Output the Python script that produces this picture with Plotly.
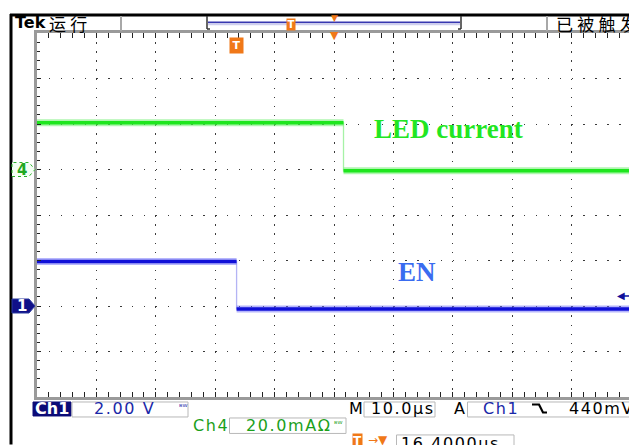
import plotly.graph_objects as go

time_window_us = [-33.6, 66.06]      # visible horizontal span, trigger at 0 us
time_per_div_us = 10.0
trigger_offset_us = 16.4             # horizontal position readout (screen centre)

led_fall_us = 18.0                   # Ch4 (LED current) falling edge
led_levels_mA = [20.5, -0.6]         # before / after the edge
ch4_scale_mA = 20.0                  # mA per division

en_fall_us = 0.0                     # Ch1 (EN) falling edge = trigger point
en_levels_V = [1.96, -0.13]          # before / after the edge
ch1_scale_V = 2.0                    # V per division
trigger_level_V = 0.44

# ---------------- geometry of the scope screen (pixels) ----------------
W, H = 629, 445
PL, PR, PT, PB = 37, 629, 33, 397.5


def fx(px):
    return (px - PL) / (PR - PL)


def fy(py):
    return (PB - py) / (PB - PT)


def sp(s):
    """hair-spaced text to imitate the wide scope font"""
    return "\u200a".join(s)


t0, t1 = time_window_us

GREEN = "#1ee61e"
GREEN_HALO = "rgba(110,238,110,0.55)"
GREEN_EDGE = "#a6f2a6"
BLUE = "#1010d8"
BLUE_HALO = "rgba(110,110,250,0.5)"
BLUE_EDGE = "#b4b4f4"

fig = go.Figure()

# --- Ch4 LED current ---
led_x = [t0, led_fall_us, led_fall_us, t1]
led_y = [led_levels_mA[0], led_levels_mA[0], led_levels_mA[1], led_levels_mA[1]]
fig.add_trace(go.Scatter(x=led_x, y=led_y, mode="lines",
                         line=dict(color=GREEN_EDGE, width=1.3), yaxis="y"))
seg_x = [t0, led_fall_us, None, led_fall_us, t1]
seg_y = [led_levels_mA[0], led_levels_mA[0], None, led_levels_mA[1], led_levels_mA[1]]
fig.add_trace(go.Scatter(x=seg_x, y=seg_y, mode="lines",
                         line=dict(color=GREEN_HALO, width=7), yaxis="y"))
fig.add_trace(go.Scatter(x=seg_x, y=seg_y, mode="lines",
                         line=dict(color=GREEN, width=3.5), yaxis="y"))

# --- Ch1 EN ---
en_x = [t0, en_fall_us, en_fall_us, t1]
en_y = [en_levels_V[0], en_levels_V[0], en_levels_V[1], en_levels_V[1]]
fig.add_trace(go.Scatter(x=en_x, y=en_y, mode="lines",
                         line=dict(color=BLUE_EDGE, width=1.3), yaxis="y2"))
seg2_x = [t0, en_fall_us, None, en_fall_us, t1]
seg2_y = [en_levels_V[0], en_levels_V[0], None, en_levels_V[1], en_levels_V[1]]
fig.add_trace(go.Scatter(x=seg2_x, y=seg2_y, mode="lines",
                         line=dict(color=BLUE_HALO, width=7), yaxis="y2"))
fig.add_trace(go.Scatter(x=seg2_x, y=seg2_y, mode="lines",
                         line=dict(color=BLUE, width=3.5), yaxis="y2"))

# ---------------- axes = graticule ----------------
vdiv_px = (PB - PT) / 8.0
hdiv_px = (PR - PL) / ((t1 - t0) / time_per_div_us)

fig.update_layout(
    width=W, height=H,
    margin=dict(l=PL, r=W - PR, t=PT, b=H - PB, pad=0),
    paper_bgcolor="white", plot_bgcolor="white",
    showlegend=False,
    xaxis=dict(
        range=time_window_us, tick0=trigger_offset_us, dtick=time_per_div_us,
        showgrid=True, gridcolor="#3a3a3a", gridwidth=1.4,
        griddash="1.4px,%.2fpx" % (vdiv_px / 5 - 1.4),
        zeroline=False, showticklabels=False,
        ticks="inside", ticklen=5, tickcolor="#222", tickwidth=1,
        minor=dict(dtick=time_per_div_us / 5, tick0=trigger_offset_us,
                   ticks="inside", ticklen=3, tickcolor="#222", showgrid=False),
        showline=True, linecolor="#9a9a9a", linewidth=3, mirror="allticks",
        fixedrange=True,
    ),
    yaxis=dict(
        range=[-5 * ch4_scale_mA, 3 * ch4_scale_mA], tick0=0, dtick=ch4_scale_mA,
        showgrid=True, gridcolor="#3a3a3a", gridwidth=1.4,
        griddash="1.4px,%.2fpx" % (hdiv_px / 5 - 1.4),
        zeroline=False, showticklabels=False,
        ticks="inside", ticklen=4, tickcolor="#222", tickwidth=1,
        minor=dict(dtick=ch4_scale_mA / 5, tick0=0, ticks="inside", ticklen=3,
                   tickcolor="#222", showgrid=False),
        showline=True, linecolor="#9a9a9a", linewidth=3, mirror=False,
        fixedrange=True,
    ),
    yaxis2=dict(
        range=[-2 * ch1_scale_V, 6 * ch1_scale_V], overlaying="y", visible=False,
        fixedrange=True,
    ),
)

shapes = []
ann = []
SANS = "DejaVu Sans"


def pline(x0, y0, x1, y1, color, width, dash="solid"):
    shapes.append(dict(type="line", xref="paper", yref="paper",
                       x0=fx(x0), y0=fy(y0), x1=fx(x1), y1=fy(y1),
                       line=dict(color=color, width=width, dash=dash)))


def prect(x0, y0, x1, y1, line="#b8b8b8", fill="rgba(0,0,0,0)", width=1):
    shapes.append(dict(type="rect", xref="paper", yref="paper",
                       x0=fx(x0), y0=fy(y0), x1=fx(x1), y1=fy(y1),
                       line=dict(color=line, width=width), fillcolor=fill, layer="above"))


def ptext(x, y, text, size=16, color="black", family=SANS,
          xanchor="center", bg=None, **kw):
    d = dict(xref="paper", yref="paper", x=fx(x), y=fy(y), text=text,
             showarrow=False, xanchor=xanchor, yanchor="middle",
             font=dict(size=size, color=color, family=family))
    if bg:
        d["bgcolor"] = bg
    d.update(kw)
    ann.append(d)


# ---------------- frame + status bar ----------------
pline(10, 15, 629, 15, "black", 3)
pline(11, 14, 11, 445, "black", 3)
pline(121, 16, 121, 31, "#a8a8a8", 2)
pline(547, 16, 547, 31, "#a8a8a8", 2)
# record-length bar
pline(207, 16, 207, 29, "#333", 1.5)
pline(207, 29, 210, 29, "#333", 1.5)
pline(461, 16, 461, 29, "#333", 1.5)
pline(458, 29, 461, 29, "#333", 1.5)
pline(208, 22.3, 460, 22.3, "#3838b0", 1.8)
pline(208, 24.5, 460, 24.5, "#cfcfee", 1.5)
ptext(290.5, 24, "<b>T</b>", size=10, color="white", bg="#f07818",
      borderpad=0, width=8, height=11)
ptext(334, 17.5, "▼", size=9, color="#f07818")

ptext(13, 22.5, "<b>Tek</b>", size=16, xanchor="left")
ptext(47, 23, "运\u2005行", size=17, family="Noto Sans CJK SC", xanchor="left")
ptext(554, 23.5, "已\u2005被\u2005触\u2005发", size=17, family="Noto Sans CJK SC",
      xanchor="left")

# ---------------- on-screen markers ----------------
ann.append(dict(xref="x", yref="paper", x=0, y=fy(46), text="<b>T</b>",
                xanchor="center", yanchor="middle",
                showarrow=False, font=dict(size=11, color="white", family=SANS),
                bgcolor="#f07818", borderpad=1, width=11, height=13))
ann.append(dict(xref="x", yref="paper", x=trigger_offset_us, y=fy(35.5), text="▼",
                xanchor="center", yanchor="middle",
                showarrow=False, font=dict(size=11, color="#f07818", family=SANS)))
ann.append(dict(xref="paper", yref="y2", x=fx(621), y=trigger_level_V, text="◀",
                xanchor="center", yanchor="middle",
                showarrow=False, font=dict(size=10, color="#10109a", family=SANS)))
shapes.append(dict(type="line", xref="paper", yref="y2", x0=fx(622), x1=fx(629),
                   y0=trigger_level_V, y1=trigger_level_V,
                   line=dict(color="#10109a", width=1.5)))

# channel ground markers
arrow_path = "M-23,-7 L-6,-7 L0,0 L-6,7 L-23,7 Z"
shapes.append(dict(type="path", xref="paper", yref="y", xsizemode="pixel",
                   ysizemode="pixel", xanchor=fx(35), yanchor=0, path=arrow_path,
                   line=dict(color="#2ab02a", width=1, dash="dot"),
                   fillcolor="#f4fff4"))
ann.append(dict(xref="paper", yref="y", x=fx(21.5), y=0, text="<b>4</b>",
                xanchor="center", yanchor="middle",
                showarrow=False, font=dict(size=15, color="#22a822", family=SANS)))
shapes.append(dict(type="path", xref="paper", yref="y2", xsizemode="pixel",
                   ysizemode="pixel", xanchor=fx(35), yanchor=0, path=arrow_path,
                   line=dict(color="#2a3aa0", width=1), fillcolor="#101088"))
ann.append(dict(xref="paper", yref="y2", x=fx(21.5), y=0, text="<b>1</b>",
                xanchor="center", yanchor="middle",
                showarrow=False, font=dict(size=15, color="white", family=SANS)))

# trace labels
ann.append(dict(xref="paper", yref="paper", x=fx(448), y=fy(129.5), xanchor="center",
                yanchor="middle", text="<b>LED current</b>", showarrow=False,
                font=dict(size=27, color="#22e622", family="Liberation Serif")))
ann.append(dict(xref="paper", yref="paper", x=fx(416.5), y=fy(272.5), xanchor="center",
                yanchor="middle", text="<b>EN</b>", showarrow=False,
                font=dict(size=27, color="#3a6cf0", family="Liberation Serif")))

# ---------------- readouts ----------------
prect(33, 402.5, 71, 416.5, line="#0c0c78", fill="#0c0c78")
ptext(52, 409.5, "<b>Ch1</b>", size=16, color="white")
prect(72, 402.5, 188, 417.5)
ptext(123.5, 409, sp("2.00 V"), color="#1a28a8")
ptext(183, 408, "ᴮᵂ", size=8, color="#1a28a8")

ptext(355.5, 409, "M")
prect(364, 402.5, 435, 417.5)
ptext(401.5, 409, sp("10.0µs"))
ptext(459, 409, "A")
prect(467.5, 402.5, 640, 417.5)
ptext(500, 409, sp("Ch1"), color="#1a28a8")
shapes.append(dict(type="path", xref="paper", yref="paper",
                   path="M %f,%f L %f,%f L %f,%f L %f,%f" % (
                       fx(532), fy(405), fx(539), fy(405), fx(543), fy(413), fx(547), fy(413)),
                   line=dict(color="black", width=2.2)))
ptext(567, 409, sp("440mV"), xanchor="left")

ptext(210, 426, sp("Ch4"), color="#1ba01b")
prect(229.5, 418.5, 346, 434)
ptext(244, 426, sp("20.0mAΩ"), color="#1ba01b", xanchor="left")
ptext(338, 425, "ᴮᵂ", size=8, color="#1ba01b")

ptext(357, 442, "<b>T</b>", size=12, color="white", bg="#f07818", borderpad=0)
ptext(378, 441, "→▼", size=12, color="#f07818")
prect(396.5, 435.5, 514, 450)
ptext(399, 444, sp("16.4000µs"), xanchor="left")

fig.update_layout(shapes=shapes, annotations=ann)

fig.write_html("out.html", config={"displayModeBar": False},
               post_script="document.body.style.margin='0';document.body.style.overflow='hidden';")
